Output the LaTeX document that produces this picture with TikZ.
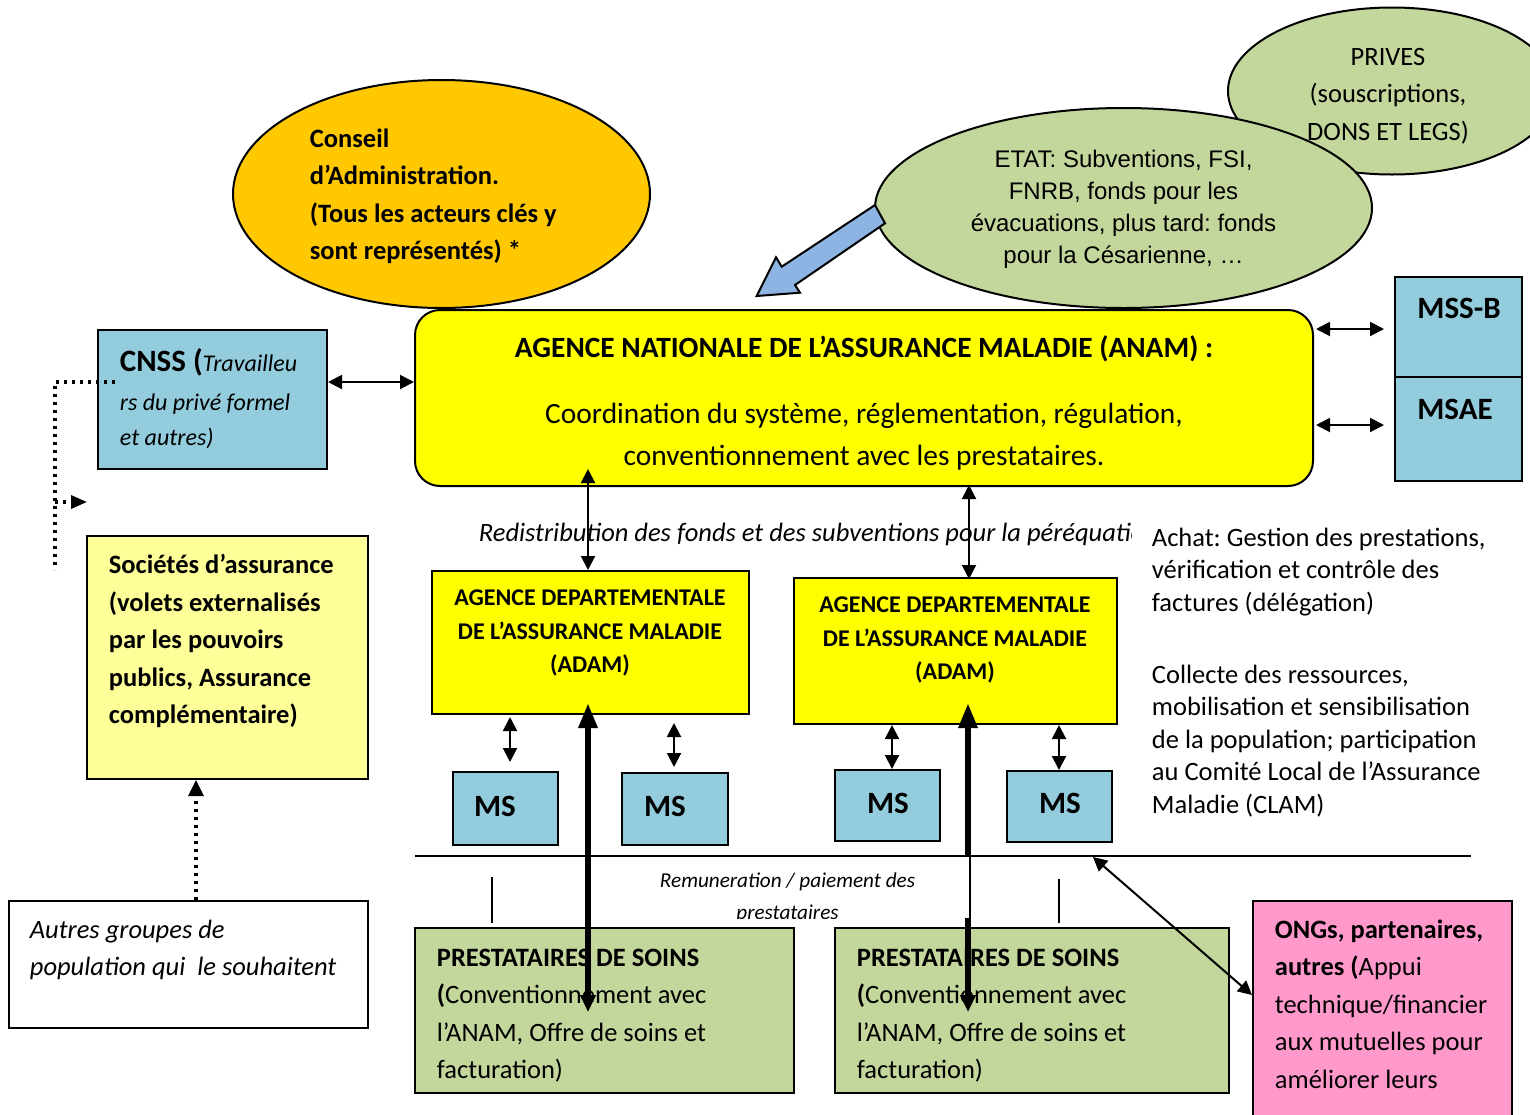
\documentclass[tikz,border=0pt]{standalone}
\usepackage{fontspec}
\setmainfont{Carlito}
\newfontfamily\arialf{Liberation Sans}
\usetikzlibrary{arrows.meta,fit,shapes.geometric}
\newcommand\fsz[2]{\fontsize{#1}{#2}\selectfont}
\definecolor{orng}{HTML}{FFC800}
\definecolor{grn}{HTML}{C3D69B}
\definecolor{cyanbox}{HTML}{93CDDD}
\definecolor{yel}{HTML}{FFFF00}
\definecolor{lyel}{HTML}{FFFF99}
\definecolor{pnk}{HTML}{FF99CC}
\definecolor{arrblue}{HTML}{8DB4E2}
\frenchspacing
\begin{document}
\begin{tikzpicture}[x=0.5pt,y=-0.5pt, line width=0.9pt,
  box/.style={draw=black, inner sep=0pt, line width=1pt},
  txt/.style={inner sep=0pt, align=left, font=\fsz{13.25}{18.75}},
  dbl/.style={{Triangle[length=7pt,width=7pt]}-{Triangle[length=7pt,width=7pt]}, line width=1pt},
  thk/.style={{Triangle[length=8.5pt,width=7.5pt]}-{Triangle[length=12.5pt,width=9pt]}, line width=3pt},
  dots/.style={line width=1.6pt, dash pattern=on 1.6pt off 2.4pt}]
\useasboundingbox (0,0) rectangle (1530,1114);

% helper coordinates
\coordinate (h382) at (0,382);
\coordinate (h329) at (0,329);
\coordinate (h425) at (0,425);
\coordinate (h995) at (0,995);
\coordinate (v588) at (588,0);
\coordinate (v969) at (969,0);
\coordinate (v510) at (510,0);
\coordinate (v674) at (674,0);
\coordinate (v892) at (892,0);
\coordinate (v1059) at (1059,0);
\coordinate (v196) at (196,0);

% ellipses
\node[ellipse, draw, line width=1pt, fill=orng, minimum width=208.5pt, minimum height=114pt, inner sep=0pt] (conseil) at (441.5,194) {};
\node[txt, anchor=west, font=\fsz{13.25}{18.75}\bfseries] (conseiltxt) at (309,196.5) {Conseil\\ d’Administration.\\ (Tous les acteurs clés y\\ sont représentés) *};

\node[ellipse, draw, line width=1pt, fill=grn, minimum width=164pt, minimum height=83.5pt, inner sep=0pt] (prives) at (1392,91) {};
\node[inner sep=0pt, align=center, font=\fsz{13.25}{18.75}] (privest) at (1388,96) {PRIVES\\ (souscriptions,\\ DONS ET LEGS)};

\node[ellipse, draw, line width=1pt, fill=grn, minimum width=248.5pt, minimum height=100pt, inner sep=0pt] (etat) at (1123.5,208) {};
\node[inner sep=0pt, align=center, font=\arialf\fsz{12}{16}] (etatt) at (1123.5,209) {ETAT: Subventions, FSI,\\ FNRB, fonds pour les\\ évacuations, plus tard: fonds\\ pour la Césarienne, …};

% blue block arrow
\draw[line width=1pt, fill=arrblue, line join=miter] (875,205) -- (781.7,266.7) -- (776,257.3) -- (756.7,296) -- (800,292.7) -- (795,285) -- (885,223.3) -- cycle;

% ANAM
\node[box, fill=yel, rounded corners=12.5pt, fit={(415,310) (1313,486)}] (anam) {};
\node[inner sep=0pt, font=\fsz{14.7}{21}\bfseries] (anamt) at (864,349) {AGENCE NATIONALE DE L’ASSURANCE MALADIE (ANAM) :};
\node[inner sep=0pt, align=center, font=\fsz{14.7}{21}] (anamb) at (864,437) {Coordination du système, réglementation, régulation,\\ conventionnement avec les prestataires.};

% CNSS
\node[box, fill=cyanbox, fit={(98,330) (327,469)}] (cnss) {};
\node[txt, anchor=west, font=\fsz{12}{17.5}\itshape] (cnsst) at (119,399) {{\fsz{15.5}{17.5}\bfseries\upshape CNSS (}Travailleu\\[2pt] rs du privé formel\\ et autres)};

% MSS-B / MSAE
\node[box, fill=cyanbox, fit={(1395,277) (1522,377)}] (mssb) {};
\node[box, fill=cyanbox, fit={(1395,377) (1522,481)}] (msae) {};
\node[inner sep=0pt, font=\fsz{15.5}{18}\bfseries] (mssbt) at (1459,308) {MSS-B};
\node[inner sep=0pt, font=\fsz{15.5}{18}\bfseries] (msaet) at (1455,409) {MSAE};

% Societes / Autres
\node[box, fill=lyel, fit={(87,536) (368,779)}] (soc) {};
\node[txt, anchor=west, font=\fsz{13.25}{18.75}\bfseries] (soct) at (108,641) {Sociétés d’assurance\\ (volets externalisés\\ par les pouvoirs\\ publics, Assurance\\ complémentaire)};
\node[box, fill=white, fit={(9,901) (368,1028)}] (autres) {};
\node[txt, anchor=west, font=\fsz{13.25}{18.75}\itshape] (autrest) at (29,950) {Autres groupes de\\ population qui\ \ le souhaitent};

% ADAM
\node[box, fill=yel, fit={(432,571) (749,714)}] (adam1) {};
\node[inner sep=0pt, align=center, font=\fsz{12}{16.75}\bfseries] (adam1t) at (590,633) {AGENCE DEPARTEMENTALE\\ DE L’ASSURANCE MALADIE\\ (ADAM)};
\node[box, fill=yel, fit={(794,578) (1117,724)}] (adam2) {};
\node[inner sep=0pt, align=center, font=\fsz{12}{16.75}\bfseries] (adam2t) at (955,640) {AGENCE DEPARTEMENTALE\\ DE L’ASSURANCE MALADIE\\ (ADAM)};

% Redistribution text (clipped)
\begin{scope}
\clip (470,505) rectangle (1131,560);
\node[inner sep=0pt, anchor=west, font=\fsz{13.25}{18.75}\itshape] (redis) at (478,534) {Redistribution des fonds et des subventions pour la péréquation};
\end{scope}

% right texts
\node[txt, anchor=west, font=\fsz{13.25}{16.25}] (achat) at (1151,572) {Achat: Gestion des prestations,\\ vérification et contrôle des\\ factures (délégation)};
\node[txt, anchor=west, font=\fsz{13.25}{16.25}] (collecte) at (1151,741) {Collecte des ressources,\\ mobilisation et sensibilisation\\ de la population; participation\\ au Comité Local de l’Assurance\\ Maladie (CLAM)};

% MS boxes
\node[box, fill=cyanbox, fit={(453,772) (558,845)}] (ms1) {};
\node[box, fill=cyanbox, fit={(622,773) (728,845)}] (ms2) {};
\node[box, fill=cyanbox, fit={(835,770) (940,841)}] (ms3) {};
\node[box, fill=cyanbox, fit={(1007,771) (1112,842)}] (ms4) {};
\node[inner sep=0pt, font=\fsz{15.5}{18}\bfseries] (ms1t) at (495,806) {MS};
\node[inner sep=0pt, font=\fsz{15.5}{18}\bfseries] (ms2t) at (665,806) {MS};
\node[inner sep=0pt, font=\fsz{15.5}{18}\bfseries] (ms3t) at (888,803) {MS};
\node[inner sep=0pt, font=\fsz{15.5}{18}\bfseries] (ms4t) at (1060,803) {MS};

% Prestataires
\node[box, fill=grn, fit={(415,928) (794,1093)}] (p1) {};
\node[txt, anchor=west] (p1t) at (436,1015.5) {\textbf{PRESTATAIRES DE SOINS}\\ \textbf{(}Conventionnement avec\\ l’ANAM, Offre de soins et\\ facturation)};
\node[box, fill=grn, fit={(835,928) (1229,1093)}] (p2) {};
\node[txt, anchor=west] (p2t) at (856,1015.5) {\textbf{PRESTATAIRES DE SOINS}\\ \textbf{(}Conventionnement avec\\ l’ANAM, Offre de soins et\\ facturation)};

% ONG
\node[box, fill=pnk, fit={(1253,901) (1512,1130)}] (ong) {};
\node[txt, anchor=west] (ongt) at (1274,1004) {\textbf{ONGs, partenaires,}\\ \textbf{autres (}Appui\\ technique/financier\\ aux mutuelles pour\\ améliorer leurs};

% separator line and small ticks
\coordinate (sepL) at (415,856);
\coordinate (sepR) at (1471,856);
\draw[line width=0.8pt] (sepL) -- (sepR);
\coordinate (tk1u) at (492,877); \coordinate (tk1d) at (492,923);
\coordinate (tk2u) at (1059,879); \coordinate (tk2d) at (1059,923);
\draw[line width=0.6pt] (tk1u) -- (tk1d);
\draw[line width=0.6pt] (tk2u) -- (tk2d);

% connectors
\draw[dbl] (cnss.east |- h382) -- (anam.west |- h382);
\draw[dbl, shorten >=5pt] ([xshift=1pt]anam.east |- h329) -- (mssb.west |- h329);
\draw[dbl, shorten >=5pt] ([xshift=1pt]anam.east |- h425) -- (msae.west |- h425);
\draw[dbl, shorten <=-9pt] (anam.south -| v588) -- (adam1.north -| v588);
\draw[dbl, shorten <=-1pt, shorten >=-1pt] (anam.south -| v969) -- (adam2.north -| v969);
\draw[dbl, shorten <=1pt, shorten >=4.5pt] (adam1.south -| v510) -- (ms1.north -| v510);
\draw[dbl, shorten <=4pt, shorten >=2.5pt] (adam1.south -| v674) -- (ms2.north -| v674);
\draw[dbl] (adam2.south -| v892) -- (ms3.north -| v892);
\draw[dbl] (adam2.south -| v1059) -- (ms4.north -| v1059);

\coordinate (onge) at (1093,857);
\draw[dbl] (ong.west |- h995) -- (onge);

% thick arrows
\coordinate (k1b) at (588,1012); \coordinate (k1t) at (588,703);
\coordinate (k2b) at (968,1012); \coordinate (k2t) at (968,703);
\draw[thk] (k1b) -- (k1t);
\draw[thk] (k2b) -- (k2t);

% remuneration box (drawn over)
\node[fill=white, inner sep=0pt, fit={(605,857) (969,918)}] (remun) {};
\begin{scope}
\clip (605,857) rectangle (969,918);
\node[inner sep=0pt, align=center, font=\fsz{10.6}{16}\itshape] (remunt) at (787.5,898) {Remuneration / paiement des\\ prestataires};
\end{scope}

% dotted connectors
\coordinate (dA) at (115,382);
\coordinate (dB) at (55,382);
\coordinate (dC) at (55,570);
\coordinate (dD) at (55,502);
\coordinate (dE) at (87,502);
\draw[dots] (dA) -- (dB) -- (dC);
\draw[dots, -{Triangle[length=8pt,width=6.5pt]}] (dD) -- (dE);
\draw[dots, -{Triangle[length=8pt,width=7.5pt]}] (autres.north -| v196) -- (soc.south -| v196);
\end{tikzpicture}
\end{document}
